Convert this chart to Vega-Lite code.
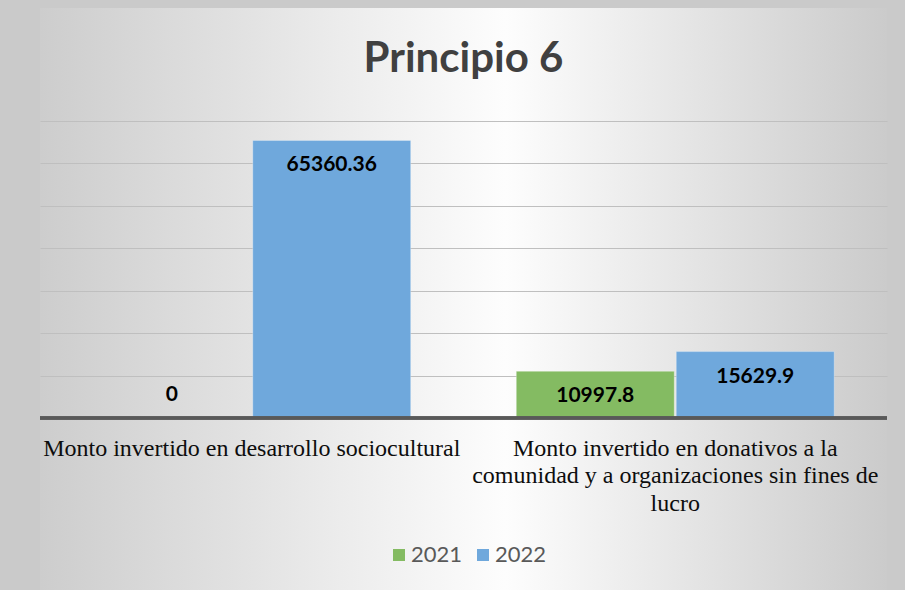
{
  "$schema": "https://vega.github.io/schema/vega-lite/v6.json",
  "width": 847,
  "height": 582,
  "autosize": {"type": "none"},
  "padding": {"left": 40, "top": 8, "right": 18, "bottom": 0},
  "background": "#cacaca",
  "view": {
    "stroke": null,
    "fill": {
      "gradient": "linear", "x1": 0, "y1": 0.5, "x2": 1, "y2": 0.5,
      "stops": [
        {"offset": 0, "color": "#cdcdcd"},
        {"offset": 0.55, "color": "#fdfdfd"},
        {"offset": 1, "color": "#cbcbcb"}
      ]
    }
  },
  "title": {
    "text": "Principio 6",
    "font": "Lato",
    "fontSize": 42,
    "fontWeight": "bold",
    "color": "#404040",
    "anchor": "middle",
    "frame": "group",
    "baseline": "alphabetic",
    "offset": -106
  },
  "data": {
    "values": [
      {"concepto": "Monto invertido en desarrollo sociocultural", "anio": "2021", "monto": 0},
      {"concepto": "Monto invertido en desarrollo sociocultural", "anio": "2022", "monto": 65360.36},
      {"concepto": "Monto invertido en donativos a la comunidad y a organizaciones sin fines de lucro", "anio": "2021", "monto": 10997.8},
      {"concepto": "Monto invertido en donativos a la comunidad y a organizaciones sin fines de lucro", "anio": "2022", "monto": 15629.9}
    ]
  },
  "layer": [
    {
      "mark": {"type": "bar", "stroke": "#ffffff", "strokeOpacity": 0.3, "strokeWidth": 1},
      "encoding": {
        "x": {
          "field": "concepto", "type": "nominal", "sort": null,
          "scale": {"paddingInner": 0, "paddingOuter": 0},
          "axis": {
            "orient": "bottom",
            "offset": -172,
            "title": null,
            "domain": false,
            "ticks": false,
            "grid": false,
            "labelAngle": 0,
            "labelAlign": "center",
            "labelBaseline": "top",
            "labelFont": "Liberation Serif",
            "labelFontSize": 24,
            "labelColor": "#0d0d0d",
            "labelPadding": 18,
            "labelLineHeight": 27.5,
            "labelLimit": 600,
            "labelOverlap": false,
            "labelBound": false,
            "labelFlush": false,
            "labelExpr": "datum.label == 'Monto invertido en donativos a la comunidad y a organizaciones sin fines de lucro' ? ['Monto invertido en donativos a la', 'comunidad y a organizaciones sin fines de', 'lucro'] : datum.label"
          }
        },
        "xOffset": {"field": "anio", "type": "nominal", "scale": {"paddingInner": 0.0125, "paddingOuter": 0.33}},
        "y": {
          "field": "monto", "type": "quantitative",
          "scale": {"domain": [-40497, 96535], "nice": false, "zero": false},
          "axis": {
            "values": [10000, 20000, 30000, 40000, 50000, 60000, 70000],
            "grid": true,
            "gridColor": "#bfbfbf",
            "gridWidth": 1,
            "labels": false,
            "ticks": false,
            "domain": false,
            "title": null
          }
        },
        "y2": {"datum": 0},
        "color": {
          "field": "anio", "type": "nominal",
          "scale": {"domain": ["2021", "2022"], "range": ["#84bb62", "#6fa8dc"]},
          "legend": {
            "orient": "none",
            "legendX": 348,
            "legendY": 536,
            "direction": "horizontal",
            "title": null,
            "symbolType": "square",
            "symbolSize": 144,
            "symbolStrokeWidth": 0,
            "labelFont": "Lato",
            "labelFontSize": 22,
            "labelColor": "#595959",
            "columnPadding": 9,
            "labelOffset": 1,
            "padding": 0
          }
        }
      }
    },
    {
      "transform": [{"filter": "datum.monto > 0"}],
      "mark": {"type": "text", "font": "Lato", "fontSize": 21, "fontWeight": "bold", "color": "#000000", "baseline": "middle", "dy": 25},
      "encoding": {
        "x": {"field": "concepto", "type": "nominal", "sort": null},
        "xOffset": {"field": "anio", "type": "nominal"},
        "y": {"field": "monto", "type": "quantitative"},
        "text": {"field": "monto", "type": "nominal"}
      }
    },
    {
      "transform": [{"filter": "datum.monto == 0"}],
      "mark": {"type": "text", "font": "Lato", "fontSize": 21, "fontWeight": "bold", "color": "#000000", "baseline": "middle", "dy": -23},
      "encoding": {
        "x": {"field": "concepto", "type": "nominal", "sort": null},
        "xOffset": {"field": "anio", "type": "nominal"},
        "y": {"field": "monto", "type": "quantitative"},
        "text": {"field": "monto", "type": "nominal"}
      }
    },
    {
      "mark": {"type": "rule", "color": "#595959", "strokeWidth": 3},
      "encoding": {"y": {"datum": 0}}
    }
  ]
}
